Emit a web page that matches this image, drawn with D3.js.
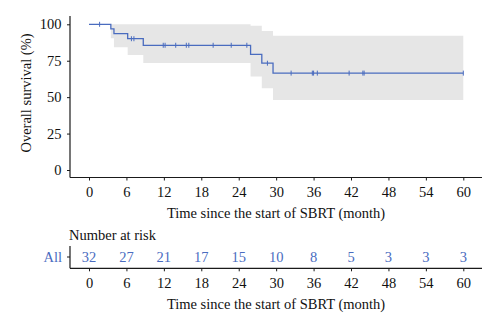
<!DOCTYPE html>
<html>
<head>
<meta charset="utf-8">
<script src="https://cdn.jsdelivr.net/npm/d3@7"></script>
<style>
  body { margin: 0; background: #fff; }
  svg text { font-family: "Liberation Serif", "Times New Roman", serif; }
</style>
</head>
<body>
<svg id="chart" width="500" height="330"></svg>
<script>
// Kaplan-Meier steps
const stepTimes = [0, 3.5, 4.0, 6.2, 8.7, 25.9, 27.7, 29.5, 60];
const survival  = [100, 96.9, 93.6, 90.1, 85.6, 79.4, 73.3, 66.5, 66.5];
const lowerCI   = [100, 90.4, 84.3, 79.0, 73.5, 64.1, 56.1, 48.1, 48.1];
const upperCI   = [100, 100, 100, 100, 100, 99.0, 95.4, 92.2, 92.2];
const censorTimes = [1.7, 6.8, 7.2, 11.9, 12.2, 13.9, 15.6, 16.0, 19.9, 22.8, 25.3,
                     28.6, 32.4, 35.8, 36.0, 36.6, 41.7, 43.9, 44.1, 60];

const xTicks = [0, 6, 12, 18, 24, 30, 36, 42, 48, 54, 60];
const yTicks = [0, 25, 50, 75, 100];
const riskCounts = [32, 27, 21, 17, 15, 10, 8, 5, 3, 3, 3];

const blue = '#4a6cbf';
const axisColor = '#1a1a1a';
const fontSize = 14.5;

const svg = d3.select('#chart');

const x = d3.scaleLinear().domain([0, 60]).range([89, 463.3]);
const y = d3.scaleLinear().domain([0, 100]).range([170, 24.3]);

const curve = stepTimes.map((t, i) => ({ t, s: survival[i], lo: lowerCI[i], hi: upperCI[i] }));

// confidence band
svg.append('path')
  .datum(curve)
  .attr('fill', '#e6e6e6')
  .attr('d', d3.area()
    .curve(d3.curveStepAfter)
    .x((d) => x(d.t))
    .y0((d) => y(d.lo))
    .y1((d) => y(d.hi)));

// survival line
svg.append('path')
  .datum(curve)
  .attr('fill', 'none')
  .attr('stroke', blue)
  .attr('stroke-width', 1.3)
  .attr('d', d3.line()
    .curve(d3.curveStepAfter)
    .x((d) => x(d.t))
    .y((d) => y(d.s)));

// censor marks
const bisect = d3.bisector((d) => d).right;
function survAt(t) {
  return survival[Math.max(0, bisect(stepTimes, t) - 1)];
}
svg.append('g')
  .selectAll('line')
  .data(censorTimes)
  .join('line')
  .attr('x1', (d) => x(d))
  .attr('x2', (d) => x(d))
  .attr('y1', (d) => y(survAt(d)) - 2.5)
  .attr('y2', (d) => y(survAt(d)) + 2.5)
  .attr('stroke', blue)
  .attr('stroke-width', 1);

// axes
function styleAxis(g) {
  g.select('.domain').remove();
  g.selectAll('.tick line').attr('stroke', axisColor);
  g.selectAll('.tick text')
    .attr('fill', '#111')
    .style('font-size', fontSize + 'px')
    .style('font-family', '"Liberation Serif", serif');
}

const mainAxisY = 177.5;
svg.append('g')
  .attr('transform', `translate(0,${mainAxisY})`)
  .call(d3.axisBottom(x).tickValues(xTicks).tickSize(3).tickPadding(6))
  .call(styleAxis);

svg.append('g')
  .attr('transform', 'translate(70,0)')
  .call(d3.axisLeft(y).tickValues(yTicks).tickSize(3).tickPadding(5.5))
  .call(styleAxis);

svg.append('line')
  .attr('x1', 70).attr('x2', 482)
  .attr('y1', mainAxisY).attr('y2', mainAxisY)
  .attr('stroke', axisColor).attr('stroke-width', 1.2);
svg.append('line')
  .attr('x1', 70).attr('x2', 70)
  .attr('y1', 16).attr('y2', mainAxisY)
  .attr('stroke', axisColor).attr('stroke-width', 1.2);

svg.append('text')
  .attr('x', 276).attr('y', 218)
  .attr('text-anchor', 'middle')
  .style('font-size', fontSize + 'px')
  .attr('fill', '#111')
  .text('Time since the start of SBRT (month)');

svg.append('text')
  .attr('transform', 'translate(31,93) rotate(-90)')
  .attr('text-anchor', 'middle')
  .style('font-size', fontSize + 'px')
  .attr('fill', '#111')
  .text('Overall survival (%)');

// risk table
const riskAxisY = 268.3;
const riskRowY = 257;

svg.append('text')
  .attr('x', 69).attr('y', 240)
  .style('font-size', fontSize + 'px')
  .attr('fill', '#111')
  .text('Number at risk');

svg.append('text')
  .attr('x', 62).attr('y', riskRowY).attr('dy', '0.35em')
  .attr('text-anchor', 'end')
  .style('font-size', fontSize + 'px')
  .attr('fill', blue)
  .text('All');

svg.append('g')
  .selectAll('text')
  .data(riskCounts)
  .join('text')
  .attr('x', (d, i) => x(xTicks[i]))
  .attr('y', riskRowY).attr('dy', '0.35em')
  .attr('text-anchor', 'middle')
  .style('font-size', fontSize + 'px')
  .attr('fill', blue)
  .text((d) => d);

svg.append('g')
  .attr('transform', `translate(0,${riskAxisY})`)
  .call(d3.axisBottom(x).tickValues(xTicks).tickSize(3).tickPadding(6))
  .call(styleAxis);

svg.append('line')
  .attr('x1', 70).attr('x2', 482)
  .attr('y1', riskAxisY).attr('y2', riskAxisY)
  .attr('stroke', axisColor).attr('stroke-width', 1.2);
svg.append('line')
  .attr('x1', 70).attr('x2', 70)
  .attr('y1', 246).attr('y2', riskAxisY)
  .attr('stroke', axisColor).attr('stroke-width', 1.2);
svg.append('line')
  .attr('x1', 67).attr('x2', 70)
  .attr('y1', riskRowY).attr('y2', riskRowY)
  .attr('stroke', axisColor).attr('stroke-width', 1);

svg.append('text')
  .attr('x', 276).attr('y', 309)
  .attr('text-anchor', 'middle')
  .style('font-size', fontSize + 'px')
  .attr('fill', '#111')
  .text('Time since the start of SBRT (month)');
</script>
</body>
</html>
